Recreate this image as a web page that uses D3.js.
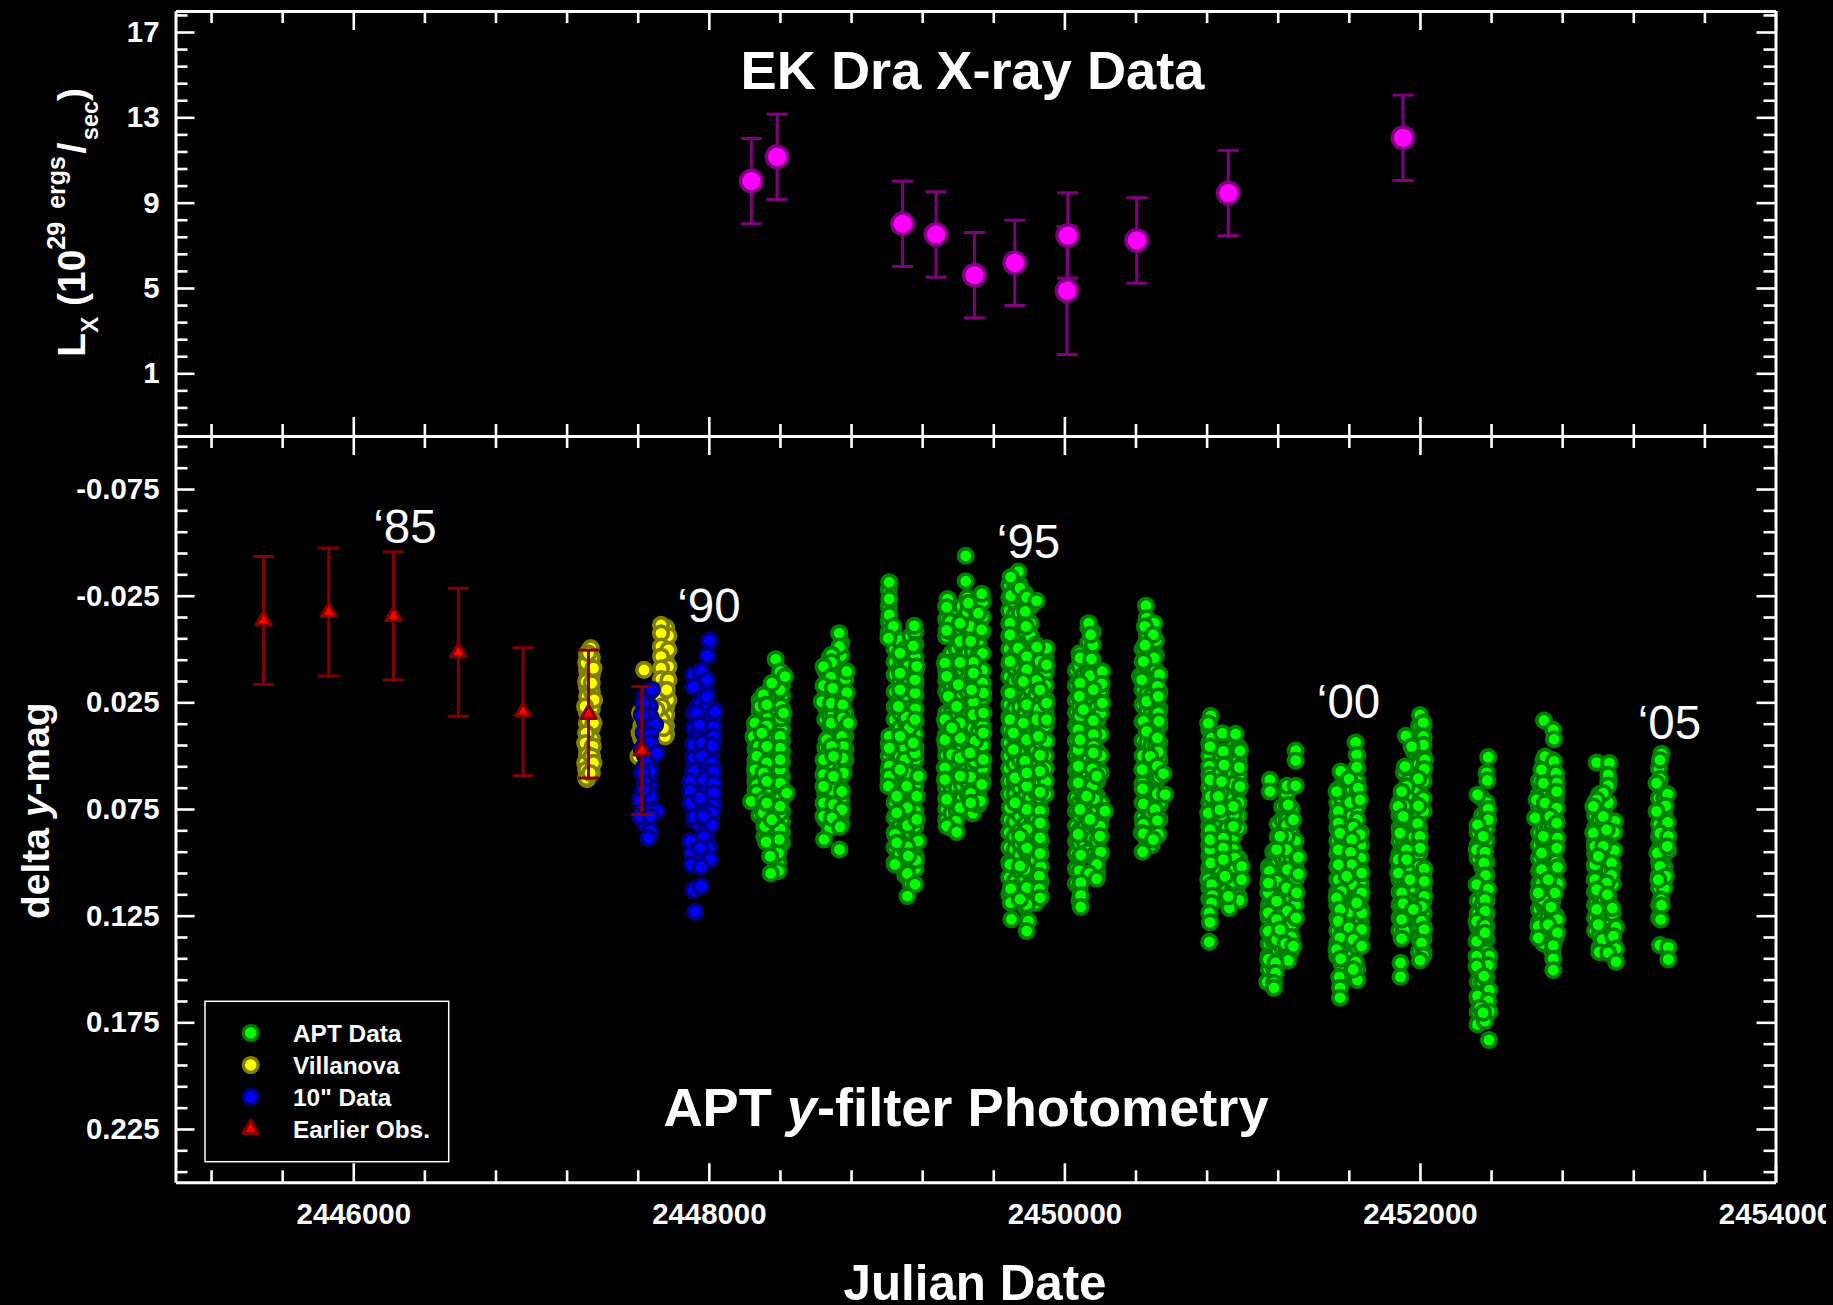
<!DOCTYPE html>
<html><head><meta charset="utf-8">
<script src="https://d3js.org/d3.v7.min.js"></script>
<style>
html,body{margin:0;padding:0;background:#000;overflow:hidden}
svg{display:block;position:absolute;left:0;top:0}
text{font-family:"Liberation Sans",Arial,sans-serif;fill:#fff}
</style></head><body>
<svg id="c" width="1826" height="1305"></svg>
<script>
// ---- data ----
const xMajor=[2446000,2448000,2450000,2452000,2454000];
const lxMajor=[1,5,9,13,17];
const magMajor=[-0.075,-0.025,0.025,0.075,0.125,0.175,0.225];
const yearLabels=[["‘85",2446112,-0.0498],["‘90",2447822,-0.0128],["‘95",2449620,-0.0425],["‘00",2451420,0.0325],["‘05",2453225,0.042]];
// JD, Lx, error
const xrayData=[[2448239,10.01,2],[2448384,11.15,2],[2449090,8.01,2],[2449278,7.51,2],[2449494,5.60,2],[2449721,6.18,2],[2450019,7.46,2],[2450015,4.88,3],[2450407,7.23,2],[2450922,9.45,2],[2451905,12.04,2]];
const earlierObs=[[2445495,-0.0134],[2445862,-0.0174],[2446226,-0.0155],[2446591,0.0015],[2446955,0.0294],[2447323,0.0305],[2447623,0.0476]];
const earlierErr=0.03;
const villanova=[[2447336,-0.0004],[2447310,.0066],[2447351,.009],[2447310,.0152],[2447355,.0238],[2447304,.0269],[2447317,.0339],[2447351,.0347],[2447310,.0394],[2447304,.0441],[2447347,.0456],[2447317,.0495],[2447304,.0534],[2447341,.0503],[2447310,.0566],[2447310,.0605],[2447351,.0534],[2447332,.0581],[2447341,.016],[2447323,.002],
[2447731,-.0113],[2447773,-.0062],[2447731,-.0074],[2447731,-.0012],[2447773,.0004],[2447731,.0035],[2447773,.0082],[2447731,.009],[2447731,.0141],[2447773,.0144],[2447735,.0191],[2447773,.0238],[2447726,.0222],[2447735,.0269],[2447735,.0332],[2447754,.041],[2447745,.0371],[2447763,.0191],[2447707,.0285],[2447636,.0098],[2447604,.0503],[2447613,.03],[2447610,.0394]];
const villanovaBand=[[2447315,[.002,.005,.01,.014,.018,.022,.027,.03,.035,.04,.043,.047,.05,.055,.058,.061]],[2447342,[.004,.012,.02,.028,.033,.037,.042,.046,.05,.054,.058]],[2447760,[-.01,-.004,.002,.006,.012,.016,.022,.027,.031,.036,.04]],[2447620,[.03,.036,.042,.048]]];
const tenInch=[[2447679,.0191],[2447632,.0254],[2447670,.0316],[2447623,.0308],[2447698,.0355],[2447632,.0394],[2447670,.0402],[2447670,.0441],[2447707,.0488],[2447623,.0472],[2447651,.0534],[2447670,.0573],[2447623,.0581],[2447641,.0628],[2447613,.0706],[2447670,.069],[2447707,.0761],[2447613,.0784],[2447670,.0784],[2447670,.0854],[2447660,.0885],[2447632,.0659],
[2448003,-.004],[2447992,.0032],[2447913,.0121],[2447955,.0105],[2447988,.0144],[2447913,.0176],[2447988,.0222],[2447970,.0285],[2448035,.0293],[2447932,.03],[2447947,.0355],[2448026,.0363],[2448026,.041],[2447913,.0449],[2447960,.0441],[2448020,.0453],[2447913,.0511],[2447960,.0503],[2448016,.0534],[2447913,.0573],[2448026,.0573],[2447895,.062],[2447970,.0612],[2448026,.0628],[2447895,.0667],[2448026,.0675],[2447898,.0722],[2447951,.0698],[2448026,.0733],[2447919,.0784],[2448016,.0768],[2448013,.0823],[2447895,.0901],[2447970,.0881],[2447998,.0932],[2447904,.0956],[2447951,.0979],[2448007,.0987],[2447904,.101],[2447955,.1021],[2447913,.113],[2447955,.1112],[2447923,.1232],[2447951,.0932],[2447970,.0784]];
const tenInchBand=[[2447640,[.022,.028,.034,.04,.045,.05,.055,.06,.065,.07,.076,.082]],[2447668,[.02,.027,.034,.04,.046,.052,.058,.064,.07,.076]],[2447915,[.03,.037,.044,.05,.056,.062,.068,.074,.08,.092,.098]],[2447945,[.018,.026,.032,.038,.046,.052,.058,.064,.07,.076,.082,.09,.096]],[2447985,[.02,.028,.034,.04,.046,.052,.058,.064,.07,.076,.082,.086,.09,.095]],[2448015,[.028,.034,.04,.048,.055,.062,.07,.078]]];
const apt89=[[2448376,.0048],[2448401,.0105],[2448401,.0191],[2448405,.0269],[2448405,.0324],[2448401,.041],[2448401,.0464],[2448401,.0566],[2448401,.0628],[2448405,.0698],[2448401,.0768],[2448401,.0843],[2448391,.0956],[2448391,.1041],[2448429,.0129],[2448438,.0675],[2448420,.03],[2448401,.0519],[2448397,.0893],[2448401,.0737],
[2448307,.0215],[2448288,.0269],[2448260,.0347],[2448326,.036],[2448326,.0261],[2448251,.041],[2448279,.0456],[2448326,.0456],[2448270,.0503],[2448326,.0534],[2448260,.0566],[2448307,.0581],[2448270,.0636],[2448270,.0672],[2448238,.0714],[2448326,.062],[2448307,.0768],[2448316,.0831],[2448322,.0904],[2448345,.0971],[2448348,.1052],[2448307,.0706],[2448298,.0394],[2448354,.016],[2448354,.08],[2448326,.0722]];
const apt90=[[2448733,-.0074],[2448735,-.0012],[2448691,.0027],[2448691,.0062],[2448645,.0082],[2448776,.0105],[2448686,.0132],[2448645,.0172],[2448697,.0183],[2448776,.0204],[2448635,.0246],[2448688,.0254],[2448753,.0261],[2448688,.0347],[2448753,.0324],[2448785,.0347],[2448663,.0425],[2448748,.041],[2448757,.0456],[2448645,.0519],[2448691,.0456],[2448753,.0511],[2448645,.0589],[2448701,.0503],[2448757,.0581],[2448701,.0597],[2448697,.0662],[2448645,.0644],[2448748,.0667],[2448645,.0722],[2448701,.0729],[2448748,.0753],[2448645,.0784],[2448693,.0792],[2448738,.0834],[2448648,.0893],[2448735,.094]];
const apt91=[[2449015,-.0313],[2449015,-.0235],[2449015,-.016],[2449038,-.0106],[2449010,-.0051],[2449015,.0409],[2449015,.0464],[2449015,.0549],[2449015,.0596],[2449010,.0643],
[2449156,-.0109],[2449150,-.0015],[2449075,.0019],[2449122,.0081],[2449122,.0136],[2449075,.0113],[2449109,.0214],[2449075,.0191],[2449160,.0206],[2449109,.0319],[2449128,.037],[2449066,.0269],[2449160,.0331],[2449103,.0464],[2449103,.0518],[2449160,.0487],[2449113,.058],[2449113,.0643],[2449178,.0596],[2449057,.069],[2449117,.0744],[2449169,.069],[2449057,.0768],[2449117,.0827],[2449169,.0799],[2449047,.0869],[2449178,.09],[2449117,.0928],[2449117,.1052],[2449160,.1103],[2449117,.1158],[2449165,.0989],[2449047,.101],[2449075,.0565],[2449075,.0409],[2449122,.097],[2449150,.044],[2449057,.0908],[2449160,.0144],[2449169,.0081]];
const apt92=[[2449445,-.0437],[2449445,-.0318],[2449343,-.0234],[2449338,-.0196],[2449535,-.0259],[2449460,-.0215],[2449357,-.0129],[2449338,-.0087],[2449516,-.0168],[2449469,-.0106],[2449413,-.0121],[2449413,-.0036],[2449473,-.0036],[2449535,-.009],[2449357,.0063],[2449328,.0066],[2449488,.0063],[2449488,.0113],[2449357,.0128],[2449338,.0128],[2449413,.0063],[2449403,.0167],[2449347,.0222],[2449544,.0206],[2449488,.025],[2449488,.0308],[2449413,.0347],[2449328,.0331],[2449544,.03],[2449328,.0425],[2449413,.0417],[2449497,.0432],[2449544,.0393],[2449366,.037],[2449366,.0495],[2449328,.0557],[2449497,.0526],[2449413,.051],[2449544,.0518],[2449328,.0612],[2449473,.0601],[2449413,.0596],[2449535,.0635],[2449338,.0705],[2449473,.0677],[2449413,.0744],[2449525,.0713],[2449473,.0721],[2449390,.0807],[2449338,.083],[2449394,.0858],[2449469,.0487],[2449394,.0269],[2449478,.0191]];
const apt93=[[2449741,-.0363],[2449698,-.0337],[2449698,-.025],[2449750,-.0285],[2449788,-.0243],[2449844,-.0226],[2449780,-.0176],[2449784,-.0106],[2449694,-.0121],[2449694,-.0067],[2449900,-.0004],[2449844,-.0009],[2449741,-.0004],[2449788,.0035],[2449694,.0058],[2449863,.0058],[2449788,.0097],[2449900,.0074],[2449844,.0148],[2449769,.0152],[2449863,.0191],[2449694,.0206],[2449788,.0261],[2449857,.0281],[2449900,.0253],[2449694,.0331],[2449844,.0331],[2449769,.0347],[2449900,.0331],[2449713,.0393],[2449788,.0425],[2449900,.0432],[2449853,.0409],[2449863,.0498],[2449713,.0471],[2449778,.0526],[2449863,.0573],[2449722,.0604],[2449788,.0643],[2449863,.0671],[2449694,.0744],[2449788,.0752],[2449863,.076],[2449863,.0815],[2449788,.0846],[2449863,.0885],[2449788,.0932],[2449863,.0958],[2449694,.101],[2449778,.1033],[2449859,.1064],[2449698,.1124],[2449788,.1119],[2449859,.1124],[2449863,.1166],[2449698,.1189],[2449788,.1197],[2449702,.1267],[2449797,.1275],[2449788,.1322],[2449750,.1173],[2449750,.1017],[2449750,.0877],[2449722,.0721],[2449788,.0581]];
const apt94=[[2450137,-.0121],[2450148,-.0067],[2450088,.0042],[2450152,.0047],[2450144,.0125],[2450213,.0105],[2450210,.0163],[2450088,.016],[2450163,.0191],[2450084,.0222],[2450213,.0253],[2450088,.0315],[2450163,.0336],[2450078,.0378],[2450163,.0401],[2450163,.0456],[2450078,.0471],[2450163,.0487],[2450078,.0549],[2450157,.0562],[2450078,.0627],[2450157,.0643],[2450168,.0702],[2450088,.0752],[2450228,.076],[2450200,.083],[2450078,.0869],[2450200,.0877],[2450204,.0952],[2450092,.0966],[2450182,.101],[2450140,.1053],[2450182,.1077],[2450092,.1095],[2450092,.1155],[2450092,.1209],[2450144,.0799],[2450107,.0284],[2450182,.0596],[2450088,.0425],[2450125,.069]];
const apt95=[[2450459,-.0203],[2450463,-.0145],[2450506,-.0121],[2450453,-.0106],[2450500,-.0067],[2450453,-.0018],[2450506,.0042],[2450444,.0058],[2450425,.0128],[2450523,.0175],[2450463,.0245],[2450528,.0222],[2450528,.03],[2450444,.0339],[2450532,.0339],[2450463,.0386],[2450523,.0417],[2450528,.0482],[2450482,.0503],[2450523,.0549],[2450438,.0565],[2450557,.0584],[2450440,.0655],[2450523,.0679],[2450566,.0682],[2450444,.0726],[2450510,.0752],[2450523,.0804],[2450444,.0822],[2450435,.0861],[2450528,.0869],[2450444,.0865],[2450440,.095],[2450500,.0893],[2450435,.0144]];
const apt96=[[2450823,.0313],[2450809,.0348],[2450828,.0418],[2450819,.0457],[2450819,.0613],[2450823,.0691],[2450809,.0769],[2450819,.0847],[2450819,.094],[2450823,.1003],[2450809,.1081],[2450828,.1104],[2450832,.1156],[2450828,.119],[2450815,.1237],[2450819,.1281],[2450815,.1373],[2450819,.0894],
[2450888,.0395],[2450963,.0398],[2450988,.0477],[2450894,.048],[2450898,.0543],[2450984,.0555],[2450950,.0632],[2450884,.0621],[2450866,.0691],[2450988,.0644],[2450954,.0777],[2450884,.0777],[2450950,.0738],[2450950,.0831],[2450894,.0886],[2450894,.0933],[2450959,.098],[2450959,.1034],[2450894,.0987],[2450997,.1019],[2450950,.1089],[2450997,.1081],[2450984,.1178],[2450928,.1214],[2450875,.0753],[2450922,.1159],[2450903,.1065]];
const apt97=[[2451301,.0476],[2451301,.0523],[2451156,.0613],[2451156,.0668],[2451254,.0641],[2451301,.0641],[2451259,.073],[2451250,.0828],[2451250,.0878],[2451288,.08],[2451250,.094],[2451316,.0976],[2451194,.094],[2451254,.1034],[2451316,.1054],[2451153,.1042],[2451194,.1089],[2451250,.112],[2451306,.1143],[2451147,.1143],[2451194,.1182],[2451254,.1229],[2451303,.126],[2451147,.1237],[2451194,.1268],[2451147,.1323],[2451194,.1362],[2451244,.1381],[2451147,.1455],[2451259,.146],[2451188,.1471],[2451188,.1518],[2451141,.1561],[2451179,.1565],[2451179,.1588],[2451288,.1393],[2451213,.1315],[2451213,.0878],[2451147,.1097]];
const apt98=[[2451638,.0438],[2451644,.0496],[2451644,.0554],[2451554,.0574],[2451601,.061],[2451653,.0652],[2451531,.0668],[2451606,.0719],[2451663,.0707],[2451541,.0761],[2451625,.0835],[2451541,.0816],[2451550,.0863],[2451663,.087],[2451616,.0894],[2451541,.0941],[2451610,.0953],[2451616,.1011],[2451541,.1011],[2451672,.105],[2451541,.1081],[2451616,.1104],[2451672,.1143],[2451559,.1136],[2451531,.1167],[2451606,.1232],[2451550,.1221],[2451672,.1237],[2451541,.1276],[2451601,.1307],[2451672,.1315],[2451550,.1354],[2451625,.1362],[2451672,.1393],[2451531,.1409],[2451554,.1452],[2451638,.1468],[2451546,.1538],[2451648,.1552],[2451550,.1588],[2451550,.1635],[2451625,.1502],[2451588,.1065],[2451644,.119]];
const apt99=[[2452000,.0309],[2452019,.0345],[2451921,.0407],[2452019,.041],[2452019,.0449],[2451953,.0457],[2452028,.052],[2452024,.0563],[2451916,.0551],[2451991,.0608],[2451925,.0644],[2451897,.0668],[2451991,.0735],[2451910,.0735],[2451878,.0738],[2451987,.0819],[2451906,.0785],[2452000,.0878],[2451888,.0863],[2452000,.0933],[2451925,.0941],[2451878,.0987],[2452024,.103],[2451925,.1034],[2451878,.105],[2452024,.1089],[2451944,.1081],[2451897,.1143],[2452024,.1159],[2451906,.1193],[2452009,.1206],[2451963,.1221],[2451897,.1268],[2452009,.1276],[2452023,.1315],[2451897,.1357],[2452009,.1377],[2452019,.1437],[2452000,.1459],[2451891,.1471],[2451891,.1537],[2451925,.0987]];
const apt01=[[2452384,.0507],[2452379,.0616],[2452324,.0683],[2452384,.075],[2452384,.08],[2452324,.0824],[2452356,.0878],[2452319,.0941],[2452366,.0952],[2452360,.1003],[2452369,.1061],[2452319,.1104],[2452384,.1125],[2452366,.1175],[2452366,.1229],[2452319,.1276],[2452366,.1296],[2452369,.1343],[2452319,.137],[2452390,.144],[2452319,.144],[2452384,.1483],[2452319,.1487],[2452360,.1533],[2452390,.1599],[2452324,.1627],[2452384,.165],[2452338,.1682],[2452390,.17],[2452324,.176],[2452366,.1744],[2452388,.1833],[2452366,.133],[2452356,.1705]];
const apt02=[[2452698,.0335],[2452750,.0379],[2452754,.0423],[2452703,.0504],[2452754,.0527],[2452684,.0566],[2452765,.0582],[2452769,.0629],[2452694,.0629],[2452656,.0707],[2452769,.0668],[2452703,.0722],[2452769,.0746],[2452647,.0792],[2452731,.0785],[2452769,.0816],[2452773,.0886],[2452694,.0878],[2452769,.0933],[2452684,.0956],[2452774,.1023],[2452684,.1034],[2452684,.1097],[2452774,.11],[2452759,.1143],[2452694,.1175],[2452737,.121],[2452773,.1268],[2452666,.1299],[2452722,.1292],[2452773,.133],[2452666,.1354],[2452750,.139],[2452750,.1452],[2452750,.1505],[2452722,.1081],[2452666,.1143]];
const apt03=[[2452994,.0532],[2453065,.0535],[2453059,.059],[2453059,.064],[2453031,.0675],[2452994,.0707],[2452975,.0738],[2453097,.0808],[2453093,.0859],[2452975,.0863],[2453031,.0785],[2452984,.0925],[2453093,.0944],[2453031,.0925],[2453078,.1003],[2452984,.1011],[2453078,.1061],[2452984,.1081],[2453050,.1097],[2452994,.1128],[2453054,.1151],[2452994,.1221],[2453082,.1214],[2453003,.1292],[2453103,.1304],[2453026,.1362],[2453088,.1346],[2453009,.1421],[2453103,.1405],[2453059,.1424],[2453103,.1466],[2453003,.0972],[2453050,.0847]];
const apt05=[[2453359,.0491],[2453350,.052],[2453350,.0608],[2453331,.0629],[2453393,.068],[2453382,.0735],[2453331,.0761],[2453393,.0813],[2453350,.0863],[2453397,.0878],[2453397,.0944],[2453335,.0956],[2453350,.1019],[2453384,.1065],[2453341,.1081],[2453356,.1175],[2453359,.1201],[2453354,.1268],[2453350,.1388],[2453397,.1398],[2453397,.1455],[2453391,.0925]];
const aptTop=[].concat(apt89,apt90,apt91,apt92,apt93,apt94,apt95,apt96,apt97,apt98,apt99,apt01,apt02,apt03,apt05);
// the solid part of each season's streak: [JD, [mags]]
const aptBand=[
[2448262,[.036,.039,.043,.047,.052,.055,.059,.062,.066]],
[2448285,[.024,.029,.033,.037,.041,.044,.049,.053,.057,.060,.064,.069,.073,.078]],
[2448312,[.024,.028,.033,.038,.042,.047,.051,.056,.060,.065,.069,.074,.079,.083,.088]],
[2448335,[.02,.025,.031,.042,.048,.053,.058,.063,.068,.073,.078,.086]],
[2448390,[.014,.018,.023,.029,.034,.039,.044,.049,.054,.059,.064,.069,.075,.079,.085,.09,.095,.1]],
[2448412,[.012,.017,.022,.028,.033,.038,.043,.048,.053,.06,.065,.07,.076,.081,.086,.091]],
[2448655,[.01,.016,.022,.027,.033,.046,.051,.056,.062,.068,.074,.08]],
[2448680,[.004,.009,.015,.02,.026,.031,.036,.041,.047,.052,.057,.063,.069,.074,.08,.084]],
[2448700,[.006,.012,.018,.023,.03,.036,.044,.05,.055,.061,.067,.072,.077]],
[2448745,[-.003,.003,.02,.028,.034,.039,.045,.05,.056,.06,.066,.071,.077,.082]],
[2448768,[.014,.022,.03,.036,.041,.047,.052]],
[2449012,[-.028,-.02,-.013,-.008,.044,.05,.057,.062]],
[2449045,[-.006,.0,.006,.012,.02,.027,.033,.04,.047,.054,.06,.066,.072,.079,.086,.093,.1]],
[2449075,[-.004,.003,.009,.016,.023,.03,.037,.044,.05,.056,.063,.07,.077,.083,.09,.096]],
[2449105,[.0,.005,.011,.017,.024,.028,.034,.04,.045,.052,.057,.063,.07,.076,.082,.088,.094,.1,.106]],
[2449135,[-.006,.002,.007,.013,.02,.026,.032,.037,.043,.05,.056,.061,.067,.073,.08,.086,.092,.098,.104,.11]],
[2449162,[-.008,-.002,.004,.01,.016,.022,.028,.034,.04,.046,.052,.058,.064,.07,.076,.083,.09,.097,.103]],
[2449335,[-.02,-.014,-.006,.005,.01,.015,.02,.03,.035,.04,.046,.05,.055,.06,.065,.07,.075,.08]],
[2449365,[-.015,-.008,.002,.008,.013,.018,.024,.03,.037,.042,.048,.054,.06,.065,.071,.077,.084]],
[2449395,[-.018,-.012,-.006,.0,.006,.012,.018,.024,.03,.036,.042,.048,.053,.059,.065,.07,.076]],
[2449425,[-.02,-.014,-.008,-.002,.004,.01,.016,.022,.028,.034,.04,.046,.052,.058,.064,.07,.076]],
[2449455,[-.024,-.017,-.01,-.004,.002,.008,.014,.02,.026,.032,.038,.044,.05,.056,.062,.068,.074]],
[2449485,[-.02,-.012,-.005,.001,.007,.013,.019,.025,.031,.037,.043,.049,.055,.061,.066,.072,.077]],
[2449515,[-.024,-.016,-.009,-.003,.003,.009,.015,.021,.027,.033,.039,.045,.051,.057,.063,.068,.073]],
[2449540,[-.022,-.015,-.008,.002,.01,.016,.023,.036,.045,.056,.062]],
[2449690,[-.03,-.024,-.018,-.012,-.006,.0,.007,.013,.02,.026,.032,.038,.044,.05,.056,.062,.068,.08,.086,.093,.1,.107,.115]],
[2449720,[-.028,-.022,-.016,-.01,-.004,.003,.009,.015,.022,.028,.034,.041,.048,.054,.062,.068,.075,.081,.088,.094,.102,.109,.116]],
[2449750,[-.03,-.024,-.017,-.011,-.005,.001,.008,.014,.02,.027,.033,.039,.046,.052,.059,.065,.072,.078,.085,.091,.097,.104,.111,.118]],
[2449780,[-.026,-.02,-.014,-.008,-.002,.005,.011,.017,.024,.03,.036,.043,.049,.056,.062,.069,.075,.082,.088,.094,.101,.108,.114,.121]],
[2449810,[-.02,-.012,-.006,.001,.007,.013,.019,.025,.032,.038,.045,.051,.058,.064,.07,.077,.083,.09,.096,.103,.11,.116]],
[2449840,[-.002,.004,.01,.016,.022,.029,.035,.041,.048,.054,.061,.067,.074,.08,.087,.093,.099,.106,.113,.119]],
[2449868,[.0,.006,.012,.018,.025,.031,.037,.044,.05,.057,.063,.07,.076,.083,.09,.096,.102,.109,.116]],
[2449895,[.004,.011,.017,.023,.03,.036,.043,.05,.056,.062,.068]],
[2450065,[.01,.017,.024,.03,.036,.043,.05,.057,.063,.07,.076,.083,.09,.096,.103,.11]],
[2450085,[.002,.008,.014,.02,.027,.033,.04,.046,.052,.059,.065,.072,.078,.085,.091,.098,.104,.112,.118]],
[2450110,[.005,.012,.018,.024,.031,.037,.044,.05,.057,.063,.07,.077,.084,.09]],
[2450135,[-.01,-.003,.004,.011,.018,.025,.032,.039,.046,.052,.059,.066,.073,.08,.087,.095]],
[2450160,[-.008,-.002,.005,.012,.019,.026,.033,.04,.047,.054,.061,.068,.075,.082,.089,.097,.105]],
[2450185,[.012,.02,.027,.034,.041,.048,.055,.062,.069,.076,.083,.09,.098,.105]],
[2450205,[.02,.03,.04,.05,.058,.072,.08,.088,.096]],
[2450440,[.0,.006,.012,.019,.026,.034,.043,.05,.063,.072,.079,.086]],
[2450465,[-.012,-.006,.0,.007,.014,.021,.029,.036,.044,.068,.075,.083,.09]],
[2450490,[.008,.015,.022,.03,.037,.045,.052,.07,.077,.085,.092]],
[2450515,[-.004,.003,.01,.017,.024,.031,.038,.045,.052,.06,.067,.074,.081,.088]],
[2450535,[.012,.02,.028,.036,.044,.052,.06,.073,.08]],
[2450815,[.038,.044,.05,.055,.059,.065,.072,.079,.083,.087,.092,.097,.103,.107,.112,.117]],
[2450845,[.066,.072,.078,.084,.09,.096,.102,.108,.118]],
[2450880,[.05,.058,.064,.07,.076,.082,.088,.094,.1,.104]],
[2450915,[.048,.055,.06,.066,.072,.078,.084,.09,.096,.101,.107,.113]],
[2450950,[.046,.052,.058,.064,.07,.076,.082,.088,.094,.1,.106,.112,.118]],
[2450980,[.046,.052,.06,.066,.072,.078,.084,.098,.104,.11,.116]],
[2451150,[.102,.108,.114,.12,.126,.132,.138,.144,.15]],
[2451175,[.095,.101,.107,.113,.119,.125,.131,.137,.143,.149,.155]],
[2451200,[.082,.088,.094,.1,.106,.112,.118,.124,.13,.136,.142,.148]],
[2451225,[.074,.08,.086,.092,.098,.104,.11,.116,.122,.128,.134,.14]],
[2451250,[.068,.074,.08,.086,.092,.098,.104,.11,.116,.122,.128,.134,.14]],
[2451278,[.075,.081,.087,.093,.099,.105,.111,.117,.123,.129,.135,.141]],
[2451300,[.09,.096,.102,.108,.114,.12,.126]],
[2451535,[.066,.072,.078,.084,.09,.096,.102,.108,.114,.12,.126,.132,.138,.144]],
[2451560,[.058,.064,.07,.076,.082,.088,.094,.1,.106,.112,.118,.124,.13,.136,.142,.148,.156]],
[2451590,[.062,.068,.074,.08,.086,.092,.098,.104,.11,.116,.122,.128,.134,.14]],
[2451620,[.06,.066,.072,.078,.084,.09,.096,.102,.108,.114,.12,.126,.132,.138,.144,.15]],
[2451648,[.05,.056,.062,.068,.074,.08,.086,.092,.098,.104,.11,.116,.122,.128,.134,.14,.15]],
[2451668,[.086,.092,.098,.104,.11,.116,.122,.128,.134]],
[2451885,[.072,.078,.084,.09,.096,.102,.108,.114,.12,.126,.132]],
[2451910,[.058,.066,.072,.078,.084,.09,.096,.102,.108,.114,.12,.126,.132]],
[2451935,[.062,.068,.074,.08,.086,.092,.098,.104,.11,.116,.122]],
[2451965,[.048,.056,.064,.07,.076,.082,.088,.094,.1,.106,.112,.118]],
[2451995,[.036,.042,.048,.054,.06,.066,.072,.078,.084,.09,.096,.102,.108,.118,.124,.13,.136,.142]],
[2452020,[.036,.042,.05,.056,.062,.07,.076,.105,.112,.118,.124,.13,.136,.142]],
[2452325,[.086,.092,.098,.118,.124,.13,.136,.15,.156,.164,.17]],
[2452350,[.07,.078,.084,.09,.096,.102,.108,.114,.12,.126,.132,.138,.144,.15,.156,.162,.168,.174]],
[2452375,[.058,.072,.078,.084,.09,.1,.106,.112,.118,.124,.13,.136,.142,.148,.154,.16,.166,.172]],
[2452670,[.062,.068,.074,.08,.086,.092,.098,.104,.11,.116,.122,.128,.134]],
[2452695,[.052,.058,.066,.072,.078,.084,.09,.096,.102,.108,.114,.12,.126,.132,.138]],
[2452720,[.054,.06,.066,.072,.078,.084,.09,.096,.102,.108,.114,.12,.126,.132]],
[2452745,[.052,.058,.064,.07,.076,.082,.088,.094,.1,.106,.112,.118,.124,.13,.136,.142]],
[2452765,[.06,.07,.08,.09,.1,.11,.125,.135]],
[2452985,[.072,.078,.084,.09,.096,.102,.108,.114,.12,.126,.132]],
[2453010,[.068,.074,.08,.086,.092,.098,.104,.11,.116,.122,.128,.134,.14]],
[2453035,[.07,.076,.082,.088,.094,.1,.106,.112,.118,.124,.13]],
[2453060,[.062,.072,.08,.086,.092,.098,.104,.11,.116,.122,.13,.138]],
[2453085,[.086,.094,.102,.11,.124,.132,.14]],
[2453345,[.056,.064,.07,.076,.082,.088,.094,.1,.106,.112,.12,.126]],
[2453375,[.07,.078,.084,.09,.096,.102,.108,.112]]];
const legendNames=["APT Data","Villanova","10\" Data","Earlier Obs."];

// ---- scales ----
const L=175.5,R=1775.5,T=11,M=436,B=1182.3;
const x=d3.scaleLinear().domain([2445000,2454000]).range([L,R]);
const yLx=d3.scaleLinear().domain([18,-2]).range([10.67,437.3]);
const yMag=d3.scaleLinear().domain([-0.1,0.25]).range([435.7,B]);
const xMinor=d3.range(2445200,2454000,400).filter(v=>(v%2000)!==0);
const lxMinor=d3.range(-1.4,18,0.8).filter(v=>!lxMajor.some(m=>Math.abs(m-v)<.01));
const magMinor=d3.range(-0.095,0.25,0.01).filter(v=>!magMajor.some(m=>Math.abs(m-v)<.001));
const svg=d3.select("#c");
const col={green:["#00ff00","#008000"],yellow:["#ffff00","#808000"],blue:["#0000ff","#000080"],red:["#ff0000","#800000"],mag:["#ff00ff","#800080"]};
const flat=b=>b.flatMap(c=>c[1].map(m=>[c[0],m]));

// ---- marks ----
function dots(data,c,r,sw,sx,sy){
  svg.append("g").selectAll("circle").data(data).join("circle")
   .attr("cx",d=>sx(d[0])).attr("cy",d=>sy(d[1])).attr("r",r)
   .attr("fill",c[0]).attr("stroke",c[1]).attr("stroke-width",sw);
}
const ptR=7.2,ptS=3.7;
dots(flat(aptBand),col.green,ptR,ptS,x,yMag);
dots(aptTop,col.green,ptR,ptS,x,yMag);
dots(flat(villanovaBand),col.yellow,ptR,ptS,x,yMag);
dots(villanova,col.yellow,ptR,ptS,x,yMag);
dots(flat(tenInchBand),col.blue,ptR,ptS,x,yMag);
dots(tenInch,col.blue,ptR,ptS,x,yMag);

function errs(data,lo,hi,sx,sy,color){
  const g=svg.append("g").attr("stroke",color).attr("stroke-width",3).attr("fill","none");
  data.forEach(d=>{
    const X=sx(d[0]),a=sy(lo(d)),b=sy(hi(d));
    g.append("line").attr("x1",X).attr("x2",X).attr("y1",a).attr("y2",b);
    [a,b].forEach(Y=>g.append("line").attr("x1",X-10.5).attr("x2",X+10.5).attr("y1",Y).attr("y2",Y));
  });
}
errs(earlierObs,d=>d[1]-earlierErr,d=>d[1]+earlierErr,x,yMag,col.red[1]);
const tri=d3.symbol(d3.symbolTriangle,100);
svg.append("g").selectAll("path").data(earlierObs).join("path").attr("d",tri)
 .attr("transform",d=>`translate(${x(d[0])},${yMag(d[1])})`)
 .attr("fill",col.red[0]).attr("stroke",col.red[1]).attr("stroke-width",3.2).attr("stroke-linejoin","round");
errs(xrayData,d=>d[1]+d[2],d=>d[1]-d[2],x,yLx,col.mag[1]);
dots(xrayData,col.mag,10.8,3.4,x,yLx);

// ---- axes ----
function ax(gen,tx,ty,scale,vals,size,sw,dom){
  const g=svg.append("g").attr("transform",`translate(${tx},${ty})`)
   .call(gen(scale).tickValues(vals).tickSize(size).tickSizeOuter(0).tickFormat(""));
  g.selectAll("text").remove();
  g.selectAll(".tick line").attr("stroke","#fff").attr("stroke-width",sw);
  g.select(".domain").attr("stroke","#fff").attr("stroke-width",3).attr("display",dom?null:"none");
  return g;
}
const mj=19,mn=12,tw=2.6;
ax(d3.axisBottom,0,T,x,xMajor,mj,tw,true); ax(d3.axisBottom,0,T,x,xMinor,mn,tw,false);
ax(d3.axisBottom,0,M,x,xMajor,mj,tw,true); ax(d3.axisBottom,0,M,x,xMinor,mn,tw,false);
ax(d3.axisTop,0,M,x,xMajor,mj,tw,false); ax(d3.axisTop,0,M,x,xMinor,mn,tw,false);
ax(d3.axisTop,0,B,x,xMajor,mj,tw,true); ax(d3.axisTop,0,B,x,xMinor,mn,tw,false);
ax(d3.axisRight,L,0,yLx,lxMajor,mj,tw,true); ax(d3.axisRight,L,0,yLx,lxMinor,mn,tw,false);
ax(d3.axisLeft,R,0,yLx,lxMajor,mj,tw,true); ax(d3.axisLeft,R,0,yLx,lxMinor,mn,tw,false);
ax(d3.axisRight,L,0,yMag,magMajor,mj,tw,true); ax(d3.axisRight,L,0,yMag,magMinor,mn,tw,false);
ax(d3.axisLeft,R,0,yMag,magMajor,mj,tw,true); ax(d3.axisLeft,R,0,yMag,magMinor,mn,tw,false);

function labels(gen,tx,ty,scale,vals,fmt,pad){
  const g=svg.append("g").attr("transform",`translate(${tx},${ty})`)
   .call(gen(scale).tickValues(vals).tickSize(0).tickPadding(pad).tickFormat(fmt));
  g.select(".domain").remove();
  g.selectAll("text").attr("font-family",'"Liberation Sans",Arial,sans-serif').attr("font-size",29.4).attr("font-weight","bold").attr("fill","#fff");
  return g;
}
labels(d3.axisBottom,0,B,x,xMajor,d=>String(d),21);
labels(d3.axisLeft,L,0,yLx,lxMajor,d=>String(d),16);
labels(d3.axisLeft,L,0,yMag,magMajor,d=>d.toFixed(3),16);

svg.append("g").selectAll("text").data(yearLabels).join("text")
 .attr("x",d=>x(d[1])).attr("y",d=>yMag(d[2])).attr("font-size",47.5).text(d=>d[0]);

function txt(X,Y,s,size,anchor){return svg.append("text").attr("x",X).attr("y",Y).attr("font-size",size).attr("font-weight","bold").attr("text-anchor",anchor||"middle").text(s);}
txt(972.5,89,"EK Dra X-ray Data",54.2);
txt(975,1299.5,"Julian Date",49.3);
const apt=txt(966,1126,"",54.2);
apt.append("tspan").text("APT ");apt.append("tspan").attr("font-style","italic").text("y");apt.append("tspan").text("-filter Photometry");

const yl=svg.append("text").attr("transform","translate(49,810.7) rotate(-90)").attr("text-anchor","middle").attr("font-size",39).attr("font-weight","bold");
yl.append("tspan").text("delta ");yl.append("tspan").attr("font-style","italic").text("y");yl.append("tspan").text("-mag");
const ul=svg.append("text").attr("transform","translate(85,356.7) rotate(-90)").attr("font-weight","bold").attr("font-size",39);
[["L",39,0,0],["X",24,13,0],[" (10",39,-13,0],["29",25,-20,0],["ergs",25,0,13],["/",39,20,2.5],["sec",23.5,13,2.5],[")",39,-13,0]].forEach(p=>{
  ul.append("tspan").attr("font-size",p[1]).attr("dy",p[2]).attr("dx",p[3]).style("white-space","pre").text(p[0]);
});

const lg=svg.append("g");
lg.append("rect").attr("x",205).attr("y",1001.3).attr("width",243.7).attr("height",160.4).attr("fill","#000").attr("stroke","#fff").attr("stroke-width",1.5);
const rows=[1033,1065,1097,1129];
const lc=[col.green,col.yellow,col.blue];
lc.forEach((c,i)=>lg.append("circle").attr("cx",250.7).attr("cy",rows[i]).attr("r",7.4).attr("fill",c[0]).attr("stroke",c[1]).attr("stroke-width",3.4));
lg.append("path").attr("d",tri).attr("transform",`translate(250.7,${rows[3]})`).attr("fill",col.red[0]).attr("stroke",col.red[1]).attr("stroke-width",3.2).attr("stroke-linejoin","round");
legendNames.forEach((n,i)=>lg.append("text").attr("x",293).attr("y",rows[i]+8.7).attr("font-size",24.4).attr("font-weight","bold").text(n));
</script></body></html>
